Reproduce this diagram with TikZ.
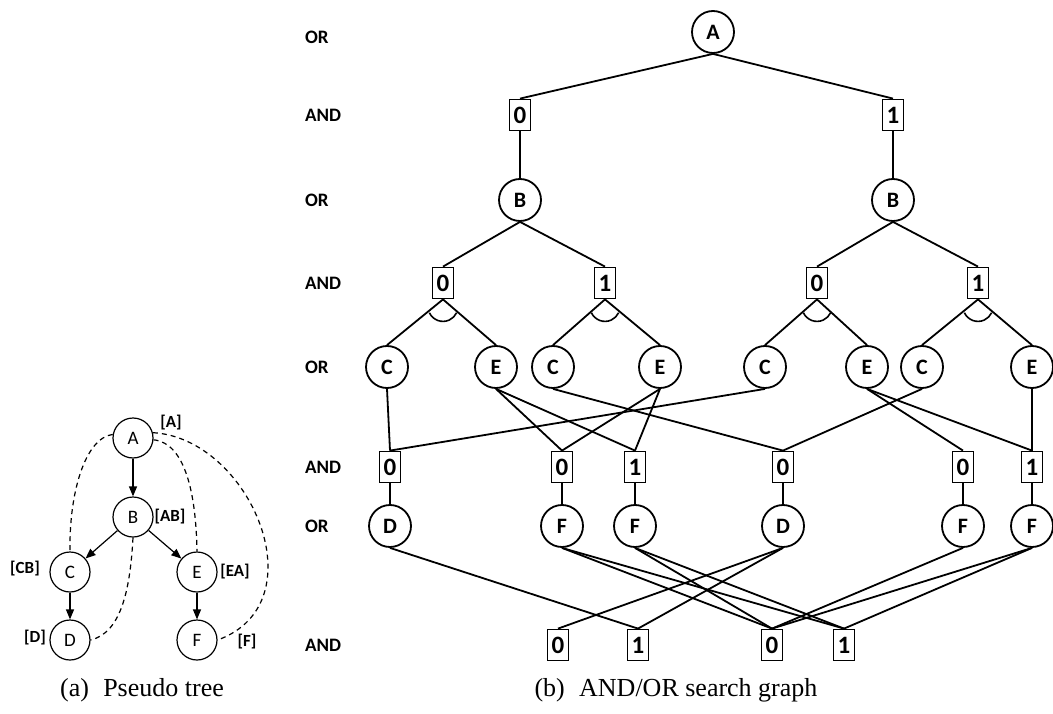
\documentclass[tikz,border=0pt]{standalone}
\usepackage{fontspec}
\setmainfont{Carlito}
\newfontfamily\capfont{Liberation Serif}
\usetikzlibrary{arrows.meta}

\begin{document}
\begin{tikzpicture}[x=0.5pt, y=0.5pt, >={Triangle[length=5pt, width=4pt]},
    ornode/.style={circle, draw, line width=0.9pt, minimum size=21pt, inner sep=0pt,
        font=\bfseries\fontsize{11}{11}\selectfont},
    andnode/.style={rectangle, draw, line width=0.9pt, minimum width=10.5pt,
        minimum height=15.5pt, inner sep=0pt, font=\bfseries\fontsize{12.5}{12.5}\selectfont},
    lvl/.style={anchor=west, font=\bfseries\fontsize{9.5}{9.5}\selectfont},
    ptnode/.style={circle, draw, line width=0.6pt, minimum size=20pt, inner sep=0pt,
        font=\fontsize{9.5}{9.5}\selectfont},
    ctx/.style={font=\bfseries\fontsize{8.5}{8.5}\selectfont},
    edge/.style={line width=0.9pt},
    back/.style={line width=0.6pt, dash pattern=on 2.5pt off 2pt}]

\useasboundingbox (0,0) rectangle (1053,713);

% 第一个图：伪树
\begin{scope}
    % 节点
    \node[ptnode] (pA) at (133,275) {A};
    \node[ptnode] (pB) at (133,196) {B};
    \node[ptnode] (pC) at (70,141) {C};
    \node[ptnode] (pE) at (197,141) {E};
    \node[ptnode] (pD) at (70,73) {D};
    \node[ptnode] (pF) at (197,73) {F};

    % 树边
    \draw[->, line width=0.6pt] (pA) -- (pB);
    \draw[->, line width=0.6pt] (pB) -- (pC);
    \draw[->, line width=0.6pt] (pB) -- (pE);
    \draw[->, line width=0.6pt] (pC) -- (pD);
    \draw[->, line width=0.6pt] (pE) -- (pF);

    % 回边
    \draw[back] (pA.170) .. controls (85,275) and (69,220) .. (pC.north);
    \draw[back] (pA.-5) .. controls (185,270) and (196,220) .. (pE.north);
    \draw[back] (pA.15) .. controls (250,275) and (320,110) .. (pF.east);
    \draw[back] (pB.south) .. controls (130,120) and (120,80) .. (pD.east);

    % 上下文
    \node[ctx] (lA) at (171,290) {[A]};
    \node[ctx] (lAB) at (170,196) {[AB]};
    \node[ctx] (lCB) at (25,144) {[CB]};
    \node[ctx] (lEA) at (235,141) {[EA]};
    \node[ctx] (lD) at (35,75) {[D]};
    \node[ctx] (lF) at (247,71) {[F]};

    \node[font=\capfont\fontsize{13}{13}\selectfont] (capa) at (142,23) {(a)\hspace{0.55em}Pseudo tree};
\end{scope}

% 第二个图：AND/OR 搜索图
\begin{scope}
    % 层标注
    \node[lvl] (l1) at (298,676) {OR};
    \node[lvl] (l2) at (298,598) {AND};
    \node[lvl] (l3) at (298,513) {OR};
    \node[lvl] (l4) at (298,430) {AND};
    \node[lvl] (l5) at (298,346) {OR};
    \node[lvl] (l6) at (298,246) {AND};
    \node[lvl] (l7) at (298,187) {OR};
    \node[lvl] (l8) at (298,68) {AND};

    % A 与 B
    \node[ornode] (A) at (713,681) {A};
    \node[andnode] (a0) at (520,598) {0};
    \node[andnode] (a1) at (893,598) {1};
    \node[ornode] (B0) at (520,513) {B};
    \node[ornode] (B1) at (893,513) {B};
    \node[andnode] (b00) at (443,430) {0};
    \node[andnode] (b01) at (605,430) {1};
    \node[andnode] (b10) at (817,430) {0};
    \node[andnode] (b11) at (978,430) {1};

    % C 与 E
    \node[ornode] (C1) at (387,346) {C};
    \node[ornode] (E1) at (496,346) {E};
    \node[ornode] (C2) at (553,346) {C};
    \node[ornode] (E2) at (660,346) {E};
    \node[ornode] (C3) at (765,346) {C};
    \node[ornode] (E3) at (867,346) {E};
    \node[ornode] (C4) at (922,346) {C};
    \node[ornode] (E4) at (1032,346) {E};

    \node[andnode] (c0) at (390,246) {0};
    \node[andnode] (e0) at (562,246) {0};
    \node[andnode] (e1) at (635,246) {1};
    \node[andnode] (cc0) at (783,246) {0};
    \node[andnode] (ee0) at (963,246) {0};
    \node[andnode] (ee1) at (1032,246) {1};

    % D 与 F
    \node[ornode] (D1) at (390,187) {D};
    \node[ornode] (F1) at (562,187) {F};
    \node[ornode] (F2) at (635,187) {F};
    \node[ornode] (D2) at (783,187) {D};
    \node[ornode] (F3) at (963,187) {F};
    \node[ornode] (F4) at (1032,187) {F};

    \node[andnode] (d0) at (558,68) {0};
    \node[andnode] (d1) at (638,68) {1};
    \node[andnode] (f0) at (772,68) {0};
    \node[andnode] (f1) at (844,68) {1};

    % 边
    \foreach \u/\v in {A/a0, A/a1, a0/B0, a1/B1, B0/b00, B0/b01, B1/b10, B1/b11,
        b00/C1, b00/E1, b01/C2, b01/E2, b10/C3, b10/E3, b11/C4, b11/E4,
        C1/c0, E1/e0, E1/e1, C2/cc0, E2/e0, E2/e1, C3/c0, E3/ee0, E3/ee1, C4/cc0, E4/ee1,
        c0/D1, e0/F1, e1/F2, cc0/D2, ee0/F3, ee1/F4,
        D1/d1, F1/f0, F1/f1, F2/f0, F2/f1, D2/d0, D2/d1, F3/f0, F4/f0, F4/f1}
        \draw[edge] (\u.south) -- (\v.north);

    % AND 弧
    \foreach \n in {b00, b01, b10, b11}
        \draw[line width=0.8pt] ([yshift=-3.5pt]\n.south) ++(205:7.5pt)
            arc[start angle=205, end angle=335, radius=7.5pt];

    \node[font=\capfont\fontsize{13}{13}\selectfont] (capb) at (676,23) {(b)\hspace{0.55em}AND/OR search graph};
\end{scope}

\end{tikzpicture}
\end{document}
